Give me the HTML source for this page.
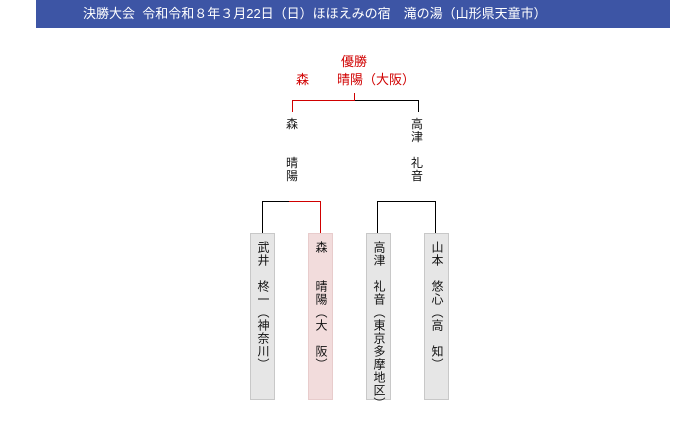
<!DOCTYPE html>
<html><head><meta charset="utf-8"><style>
body{margin:0;width:700px;height:400px;background:#fff;position:relative;overflow:hidden;font-family:"Liberation Sans","Noto Sans CJK JP",sans-serif;font-size:12px;color:#111}
.a{position:absolute}
.hdr{left:36px;top:0;width:634px;height:28px;background:#3d55a5;color:#fff;font-size:13px;line-height:28px}
.box{position:absolute;top:233px;width:25px;height:167px;background:#e6e6e6;border:1px solid #c8c8c8;box-sizing:border-box}
.v{position:absolute;width:14px;font-size:12px;line-height:13px;text-align:center}
.w{position:absolute;writing-mode:vertical-rl;text-orientation:upright;font-size:12px;line-height:14px;letter-spacing:1px;width:14px;height:200px;white-space:nowrap}
.l{position:absolute;background:#000}
.r{background:#d00000}
.red{color:#d00000}
</style></head><body>
<div class="a hdr"><span style="position:absolute;left:47px">決勝大会&nbsp; 令和令和８年３月22日（日）ほほえみの宿　滝の湯（山形県天童市）</span></div>

<div class="a red" style="left:341px;top:51px;font-size:13px">優勝</div>
<div class="a red" style="left:296px;top:69px;font-size:13px">森</div>
<div class="a red" style="left:337px;top:69px;font-size:13px">晴陽（大阪）</div>

<div class="l r" style="left:354px;top:93px;width:1px;height:8px"></div>
<div class="l r" style="left:292px;top:100px;width:63px;height:1px"></div>
<div class="l" style="left:355px;top:100px;width:64px;height:1px"></div>
<div class="l r" style="left:292px;top:100px;width:1px;height:12px"></div>
<div class="l" style="left:418px;top:100px;width:1px;height:12px"></div>

<div class="v" style="left:285px;top:118px">森<br><br><br>晴<br>陽</div>
<div class="v" style="left:410px;top:118px">高<br>津<br><br>礼<br>音</div>

<div class="l" style="left:262px;top:201px;width:27px;height:1px"></div>
<div class="l r" style="left:289px;top:201px;width:32px;height:1px"></div>
<div class="l" style="left:262px;top:201px;width:1px;height:32px"></div>
<div class="l r" style="left:320px;top:201px;width:1px;height:32px"></div>
<div class="l" style="left:377px;top:201px;width:59px;height:1px"></div>
<div class="l" style="left:377px;top:201px;width:1px;height:32px"></div>
<div class="l" style="left:435px;top:201px;width:1px;height:32px"></div>

<div class="box" style="left:250px"></div>
<div class="box" style="left:308px;background:#f2dcdc;border-color:#e8cccc"></div>
<div class="box" style="left:366px"></div>
<div class="box" style="left:424px"></div>

<div class="w" style="left:256px;top:241px">武井　柊一（神奈川）</div>
<div class="w" style="left:314px;top:241px">森　　晴陽（大　阪）</div>
<div class="w" style="left:372px;top:241px">高津　礼音（東京多摩地区）</div>
<div class="w" style="left:430px;top:241px">山本　悠心（高　知）</div>
</body></html>
